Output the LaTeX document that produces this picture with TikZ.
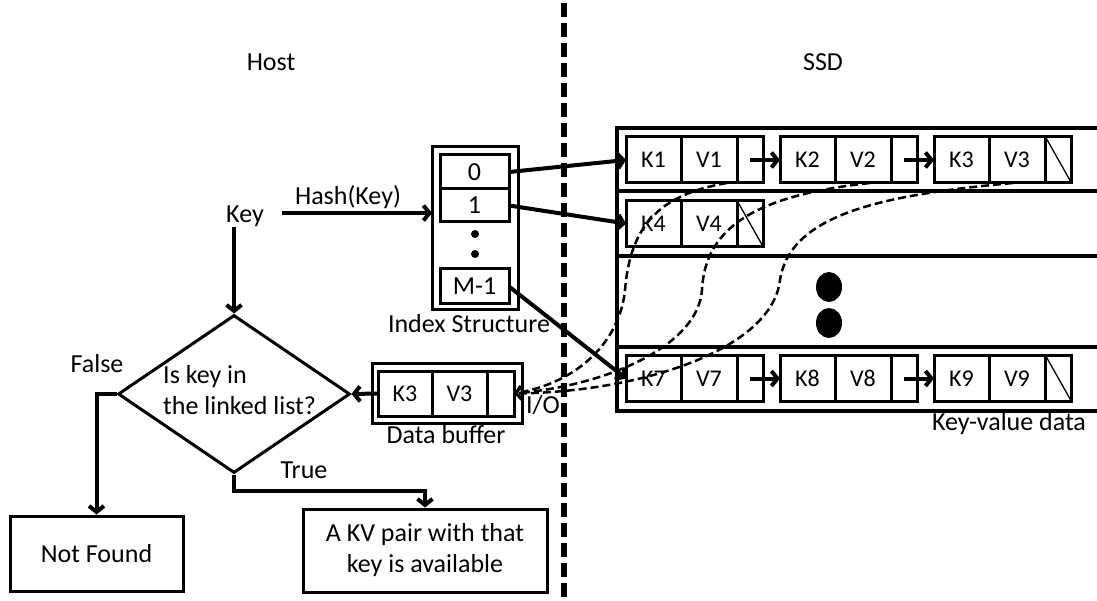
\documentclass[tikz,border=0pt]{standalone}
\usepackage{fontspec}
\setmainfont{Carlito}
\usetikzlibrary{arrows.meta,shapes.geometric}
\tikzset{
  cell/.style={draw,line width=3pt,inner sep=0pt,outer sep=0pt,minimum height=46pt,font=\fontsize{24}{28}\selectfont},
  kcell/.style={cell,minimum width=55pt},
  vcell/.style={cell,minimum width=56pt},
  pcell/.style={cell,minimum width=26pt},
  slot/.style={draw,line width=3pt,inner sep=0pt,outer sep=0pt,minimum width=69pt},
  frame/.style={draw,line width=3pt,inner sep=0pt,outer sep=0pt},
  flowbox/.style={draw,line width=3pt,align=center},
  decision/.style={diamond,draw,line width=3pt,inner sep=0pt,minimum width=232pt,minimum height=158pt},
  arr/.style={line width=4pt,-{Straight Barb[length=6pt,width=15pt]}},
  ioarr/.style={line width=2.5pt,dash pattern=on 8pt off 4pt,-{Straight Barb[length=6pt,width=13pt]}},
  nil/.style={line width=1.3pt},
  ssdline/.style={line width=3.5pt},
  border/.style={line width=6pt,dash pattern=on 14pt off 6pt},
  lbl/.style={inner sep=0pt}
}
\begin{document}
\begin{tikzpicture}[x=1pt,y=-1pt,font=\fontsize{26}{31}\selectfont]
\useasboundingbox (0,0) rectangle (1097,601);
\draw[border] (564,3) -- (564,601);
%
\node[lbl](host) at (271,62) {Host};
\node[lbl](ssd) at (823,62) {SSD};
%
\draw[ssdline] (1097,128) -- (617,128) -- (617,411) -- (1097,411);
\draw[ssdline] (617,191) -- (1097,191);
\draw[ssdline] (617,256) -- (1097,256);
\draw[ssdline] (617,347) -- (1097,347);
\fill (829,287) ellipse (13pt and 15pt);
\fill (829,323) ellipse (13pt and 15pt);
\node[lbl](kvdata) at (1009,424) {Key-value data};
%
\node[kcell](k1) at (653.5,160) {K1};
\node[vcell](v1) at (709,160) {V1};
\node[pcell](p1) at (750,160) {};
\node[kcell](k2) at (807.5,160) {K2};
\node[vcell](v2) at (863,160) {V2};
\node[pcell](p2) at (904,160) {};
\node[kcell](k3) at (961.5,160) {K3};
\node[vcell](v3) at (1017,160) {V3};
\node[pcell](p3) at (1058.5,160) {};
\draw[arr](p1.center) -- (k2.west) {};
\draw[arr](p2.center) -- (k3.west) {};
\draw[nil](p3.north west) -- (p3.south east) {};
%
\node[kcell](k4) at (653.5,223.5) {K4};
\node[vcell](v4) at (709,223.5) {V4};
\node[pcell](p4) at (750,223.5) {};
\draw[nil](p4.north west) -- (p4.south east) {};
%
\node[kcell](k7) at (653.5,378.5) {K7};
\node[vcell](v7) at (709,378.5) {V7};
\node[pcell](p7) at (750,378.5) {};
\node[kcell](k8) at (807.5,378.5) {K8};
\node[vcell](v8) at (863,378.5) {V8};
\node[pcell](p8) at (904,378.5) {};
\node[kcell](k9) at (961.5,378.5) {K9};
\node[vcell](v9) at (1017,378.5) {V9};
\node[pcell](p9) at (1058.5,378.5) {};
\draw[arr](p7.center) -- (k8.west) {};
\draw[arr](p8.center) -- (k9.west) {};
\draw[nil](p9.north west) -- (p9.south east) {};
%
\node[frame,minimum width=86pt,minimum height=163pt](idx) at (475,228.5) {};
\node[slot,minimum height=34pt](idx0) at (474.5,172) {0};
\node[slot,minimum height=33pt](idx1) at (474.5,205.5) {1};
\node[slot,minimum height=35pt](idxm) at (474.5,286.5) {M-1};
\fill (475,234) circle (4pt);
\fill (475,254) circle (4pt);
\node[lbl](idxlbl) at (469,324) {Index Structure};
\draw[arr](idx0.east) -- (k1.west) {};
\draw[arr](idx1.east) -- (k4.west) {};
\draw[arr](idxm.east) -- (k7.west) {};
%
\node[lbl](key) at (245,216) {Key};
\node[lbl](hash) at (348,197) {Hash(Key)};
\draw[arr]([xshift=18pt]key.east |- 0,213) -- (idx.west |- 0,213) {};
%
\node[frame,minimum width=150pt,minimum height=60pt](buf) at (447,393) {};
\node[kcell,minimum width=54pt,minimum height=45pt](bk) at (405,393.5) {K3};
\node[vcell,minimum width=55pt,minimum height=45pt](bv) at (459.5,393.5) {V3};
\node[pcell,minimum width=27pt,minimum height=45pt](bp) at (500.5,393.5) {};
\node[lbl](buflbl) at (446,435) {Data buffer};
\node[lbl](io) at (543,405) {I/O};
%
\draw[ioarr]([xshift=18pt]v1.south) .. controls (655,195) and (630,230) .. (625,290) .. controls (620,340) and (580,382) .. (bp.east);
\draw[ioarr]([xshift=7pt]v2.south) .. controls (760,195) and (705,225) .. (702,290) .. controls (698,345) and (610,385) .. (bp.east);
\draw[ioarr]([xshift=-4pt]v3.south) .. controls (880,195) and (790,215) .. (780,280) .. controls (772,350) and (640,392) .. (bp.east);
%
\node[decision](q) at (234,394) {};
\node[lbl,anchor=west,align=left](qtext) at (163,390) {Is key in\\the linked list?};
\draw[arr](key.south -| q.north) -- (q.north) {};
\draw[arr](bk.west) -- (q.east) {};
%
\node[lbl](false) at (97,364) {False};
\node[flowbox,minimum width=173pt,minimum height=75pt](nf) at (96.5,553.5) {Not Found};
\draw[arr](q.west) -| (nf.north) {};
%
\node[lbl](true) at (304,470) {True};
\node[flowbox,minimum width=244pt,minimum height=83pt](kv) at (425,550.5) {A KV pair with that\\key is available};
\coordinate(tb) at (234,491);
\draw[arr](q.south) -- (tb) -| (kv.north) {};
\end{tikzpicture}
\end{document}
